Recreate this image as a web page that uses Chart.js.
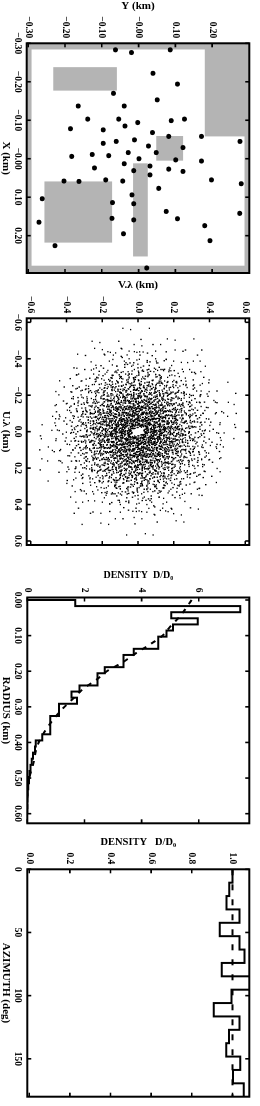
<!DOCTYPE html>
<html>
<head>
<meta charset="utf-8">
<script src="https://cdn.jsdelivr.net/npm/chart.js@4.4.1/dist/chart.umd.min.js"></script>
<style>
  html, body { margin: 0; padding: 0; background: #fff; overflow: hidden; }
  body { width: 260px; height: 1106px; position: relative; }
  /* the figure is laid out landscape and turned a quarter clockwise */
  #sheet { position: absolute; left: 0; top: 0; width: 1106px; height: 260px;
           transform-origin: 0 0; transform: translate(260px, 0) rotate(90deg); }
  #sheet canvas { position: absolute; top: 0; }
</style>
</head>
<body>
<div id="sheet">
  <canvas id="c-array"></canvas>
  <canvas id="c-uv"></canvas>
  <canvas id="c-radial"></canvas>
  <canvas id="c-azimuth"></canvas>
</div>
<script>
/* global Chart */

// ---- panel 1: antenna positions (km)
const antX = [-0.283, -0.276, -0.283, -0.222, -0.194, -0.170, -0.153, -0.137, -0.137, -0.103,
  -0.103, -0.094, -0.099, -0.103, -0.078, -0.075, -0.085, -0.068, -0.058, -0.058,
  -0.045, -0.040, -0.045, -0.049, -0.033, -0.029, -0.006, -0.011, -0.008, -0.016,
  0.000, -0.016, 0.003, 0.006, 0.024, 0.013, 0.031, 0.019, 0.027, 0.033,
  0.058, 0.059, 0.055, 0.058, 0.042, 0.055, 0.065, 0.077, 0.094, 0.104,
  0.114, 0.117, 0.137, 0.142, 0.165, 0.155, 0.159, 0.156, 0.174, 0.195,
  0.213, 0.226, 0.284];
const antY = [-0.063, -0.019, 0.086, 0.039, 0.106, -0.068, 0.051, -0.164, -0.039, -0.138,
  -0.054, -0.002, 0.089, 0.125, -0.185, -0.096, -0.037, 0.038, 0.082, 0.171,
  0.276, -0.096, -0.061, -0.011, 0.027, 0.121, -0.182, -0.126, -0.081, -0.028,
  0.001, 0.048, 0.101, 0.171, -0.120, -0.039, -0.013, 0.031, 0.082, 0.121,
  -0.203, -0.162, -0.089, -0.043, 0.031, 0.198, 0.279, 0.055, -0.018, -0.262,
  -0.071, -0.013, 0.075, 0.275, -0.271, -0.072, -0.013, 0.106, 0.180, -0.041,
  0.194, -0.227, 0.022];
// usable field and blocked (grey) areas: [xMin, xMax, yMin, yMax] in km
const openField = [-0.284, 0.278, -0.291, 0.288];
const blockedAreas = [
  [-0.238, -0.177, -0.232, -0.059],
  [-0.31, -0.058, 0.180, 0.31],
  [-0.059, 0.005, 0.048, 0.121],
  [0.059, 0.218, -0.256, -0.072],
  [0.012, 0.254, -0.015, 0.025],
];
const kmTicks = [-0.3, -0.2, -0.1, 0, 0.1, 0.2];
const kmLabels = ["\u22120.30", "\u22120.20", "\u22120.10", "\u22120.00", "0.10", "0.20"];

// ---- panel 2: uv ticks
const uvTicks = [-0.6, -0.4, -0.2, 0, 0.2, 0.4, 0.6];
const uvLabels = ["\u22120.6", "\u22120.4", "\u22120.2", "0.0", "0.2", "0.4", "0.6"];

// ---- panel 3: radial density of uv samples
const radiusEdges = [0, 0.0171, 0.0343, 0.0514, 0.0686, 0.0857, 0.1029, 0.12, 0.1371, 0.1543,
  0.1714, 0.1886, 0.2057, 0.2229, 0.24, 0.2571, 0.2743, 0.2914, 0.3086, 0.3257,
  0.3429, 0.36, 0.3771, 0.3943, 0.4114, 0.4286, 0.4457, 0.4629, 0.48, 0.4971,
  0.5143, 0.5314, 0.5486, 0.5657, 0.5829, 0.6];
const radialDensity = [1.68, 7.45, 5.04, 5.97, 5.10, 4.87, 4.58, 4.58, 3.73, 3.37,
  3.37, 2.71, 2.46, 2.46, 1.83, 1.55, 1.74, 1.11, 1.11, 0.80,
  0.80, 0.80, 0.52, 0.30, 0.27, 0.20, 0.16, 0.11, 0.08, 0.06,
  0.03, 0.02, 0.01, 0.0, 0.0];
const modelRadius = [0, 0.044, 0.073, 0.101, 0.126, 0.150, 0.178, 0.197, 0.222, 0.247,
  0.284, 0.311, 0.344, 0.377, 0.414, 0.454, 0.487, 0.515, 0.552, 0.60];
const modelDensity = [5.75, 5.36, 5.02, 4.72, 4.27, 3.79, 3.28, 2.84, 2.45, 2.00,
  1.51, 1.17, 0.83, 0.55, 0.33, 0.23, 0.11, 0.03, 0.0, 0.0];
const radiusTicks = [0, 0.1, 0.2, 0.3, 0.4, 0.5, 0.6];
const radiusLabels = ["0.00", "0.10", "0.20", "0.30", "0.40", "0.50", "0.60"];
const radialDensTicks = [0, 2, 4, 6];
const radialDensLabels = ["0", "2", "4", "6"];

// ---- panel 4: azimuthal density
const azimuthEdges = [0, 10.59, 21.18, 31.76, 42.35, 52.94, 63.53, 74.12, 84.71, 95.29,
  105.88, 116.47, 127.06, 137.65, 148.24, 158.82, 169.41, 180];
const azimuthDensity = [1.00, 0.984, 0.971, 1.035, 0.937, 1.035, 1.059, 0.948, 1.09, 0.995,
  0.908, 1.035, 0.983, 0.969, 1.038, 1.003, 1.056];
const uniformLevel = [1.0, 1.0];
const uniformAzimuth = [0, 180];
const azimuthTicks = [0, 50, 100, 150];
const azimuthLabels = ["0", "50", "100", "150"];
const azDensTicks = [0, 0.2, 0.4, 0.6, 0.8, 1.0];
const azDensLabels = ["0.0", "0.2", "0.4", "0.6", "0.8", "1.0"];

const FONT = "'Liberation Serif', 'DejaVu Serif', serif";
const GREY = "#b4b4b4";
const H = 260;

// every ordered pair of antennas gives one uv sample (their separation)
const uvPoints = [];
antX.forEach((xi, i) => {
  antX.forEach((xj, j) => {
    if (i !== j) uvPoints.push({ x: xi - xj, y: antY[i] - antY[j] });
  });
});

function steps(edges, values) {
  const pts = [{ x: edges[0], y: 0 }];
  edges.forEach((e, i) => pts.push({ x: e, y: values[Math.min(i, values.length - 1)] }));
  return pts;
}

function pairs(xs, ys) {
  return xs.map((x, i) => ({ x, y: ys[i] }));
}

// boxed frame with inward ticks on all four sides
const framePlugin = {
  id: "frame",
  afterDatasetsDraw(chart) {
    const { ctx, chartArea: a, scales } = chart;
    ctx.save();
    ctx.strokeStyle = "#000";
    ctx.lineWidth = 1.6;
    ctx.beginPath();
    scales.x.ticks.forEach((t) => {
      const p = scales.x.getPixelForValue(t.value);
      ctx.moveTo(p, a.bottom); ctx.lineTo(p, a.bottom - 4);
      ctx.moveTo(p, a.top); ctx.lineTo(p, a.top + 4);
    });
    scales.y.ticks.forEach((t) => {
      const p = scales.y.getPixelForValue(t.value);
      ctx.moveTo(a.left, p); ctx.lineTo(a.left + 4, p);
      ctx.moveTo(a.right, p); ctx.lineTo(a.right - 4, p);
    });
    ctx.stroke();
    ctx.lineWidth = 2;
    ctx.strokeRect(a.left, a.top, a.right - a.left, a.bottom - a.top);
    ctx.restore();
  },
};

// grey = ground not available for antennas
const fieldPlugin = {
  id: "field",
  beforeDatasetsDraw(chart) {
    const { ctx, chartArea: a, scales: { x, y } } = chart;
    const box = (b, color) => {
      const x0 = x.getPixelForValue(b[0]);
      const x1 = x.getPixelForValue(b[1]);
      const y0 = y.getPixelForValue(b[2]);
      const y1 = y.getPixelForValue(b[3]);
      ctx.fillStyle = color;
      ctx.fillRect(Math.min(x0, x1), Math.min(y0, y1), Math.abs(x1 - x0), Math.abs(y1 - y0));
    };
    ctx.save();
    ctx.beginPath();
    ctx.rect(a.left, a.top, a.right - a.left, a.bottom - a.top);
    ctx.clip();
    ctx.fillStyle = GREY;
    ctx.fillRect(a.left, a.top, a.right - a.left, a.bottom - a.top);
    box(openField, "#fff");
    blockedAreas.forEach((b) => box(b, GREY));
    ctx.restore();
  },
};

function axis(min, max, ticks, labels, title, fit, pad, titleSize) {
  return {
    type: "linear",
    min,
    max,
    grid: { display: false, drawTicks: false },
    border: { display: false },
    afterBuildTicks: (s) => { s.ticks = ticks.map((v) => ({ value: v })); },
    afterFit: fit,
    ticks: {
      autoSkip: false, maxRotation: 0, minRotation: 0, padding: pad, color: "#000",
      font: { family: FONT, size: 9.5, weight: "bold" },
      callback: (v, i) => labels[i],
    },
    title: {
      display: true, text: title, color: "#000", padding: 0,
      font: { family: FONT, size: titleSize || 11, weight: "bold", lineHeight: 1.1 },
    },
  };
}

function buildChart(id, geo, datasets, x, y, plugins) {
  const canvas = document.getElementById(id);
  const left = Math.floor(geo.plotLeft - geo.yAxisWidth);
  const width = Math.ceil(geo.plotRight + 3 - left);
  canvas.width = width;
  canvas.height = H;
  canvas.style.left = `${left}px`;
  canvas.style.width = `${width}px`;
  canvas.style.height = `${H}px`;
  const xs = axis(x.min, x.max, x.ticks, x.labels, x.title, (s) => { s.height = H - geo.plotBottom; }, 4, x.titleSize);
  xs.position = "bottom";
  const ys = axis(y.min, y.max, y.ticks, y.labels, y.title, (s) => { s.width = geo.plotLeft - left; }, 5, y.titleSize);
  ys.position = "left";
  return new Chart(canvas, {
    type: "scatter",
    data: { datasets },
    options: {
      responsive: false,
      maintainAspectRatio: false,
      animation: false,
      devicePixelRatio: 1,
      layout: { padding: { top: geo.plotTop, right: width - (geo.plotRight - left), left: 0, bottom: 0 } },
      plugins: { legend: { display: false }, tooltip: { enabled: false } },
      scales: { x: xs, y: ys },
    },
    plugins: [...(plugins || []), framePlugin],
  });
}

// panel 1: array layout
buildChart("c-array",
  { plotLeft: 43.3, plotRight: 273.3, plotTop: 3.3, plotBottom: 233.3, yAxisWidth: 43.3 },
  [{ data: pairs(antX, antY), pointRadius: 2.5, backgroundColor: "#000", borderWidth: 0 }],
  { min: -0.30, max: 0.297, ticks: kmTicks, labels: kmLabels, title: "X (km)" },
  { min: -0.3042, max: 0.301, ticks: kmTicks, labels: kmLabels, title: "Y (km)" },
  [fieldPlugin]);

// panel 2: uv coverage
buildChart("c-uv",
  { plotLeft: 318.3, plotRight: 547.3, plotTop: 3.3, plotBottom: 233.3, yAxisWidth: 38.5 },
  [{ data: uvPoints, pointStyle: "rect", pointRadius: 0.95, backgroundColor: "#000", borderWidth: 0 }],
  { min: -0.622, max: 0.622, ticks: uvTicks, labels: uvLabels, title: "U.\u03bb (km)" },
  { min: -0.623, max: 0.623, ticks: uvTicks, labels: uvLabels, title: "V.\u03bb (km)" });

// panel 3: radial profile
buildChart("c-radial",
  { plotLeft: 597.5, plotRight: 823.3, plotTop: 5, plotBottom: 232.7, yAxisWidth: 27.5 },
  [
    { data: steps(radiusEdges, radialDensity), showLine: true, stepped: true, borderColor: "#000", borderWidth: 2, pointRadius: 0 },
    { data: pairs(modelRadius, modelDensity), showLine: true, borderColor: "#000", borderWidth: 2, borderDash: [5, 6], cubicInterpolationMode: "monotone", pointRadius: 0 },
  ],
  { min: -0.007, max: 0.627, ticks: radiusTicks, labels: radiusLabels, title: "RADIUS (km)" },
  { min: 0, max: 7.77, ticks: radialDensTicks, labels: radialDensLabels, title: "DENSITY  D/D\u2080", titleSize: 10 });

// panel 4: azimuthal profile
buildChart("c-azimuth",
  { plotLeft: 869.3, plotRight: 1096.7, plotTop: 3.3, plotBottom: 232.7, yAxisWidth: 32 },
  [
    { data: steps(azimuthEdges, azimuthDensity).slice(1), showLine: true, stepped: true, borderColor: "#000", borderWidth: 2, pointRadius: 0 },
    { data: pairs(uniformAzimuth, uniformLevel), showLine: true, borderColor: "#000", borderWidth: 2, borderDash: [6, 9], pointRadius: 0 },
  ],
  { min: 0, max: 180, ticks: azimuthTicks, labels: azimuthLabels, title: "AZIMUTH (deg)" },
  { min: -0.0095, max: 1.083, ticks: azDensTicks, labels: azDensLabels, title: "DENSITY   D/D\u2080", titleSize: 10.5 });
</script>
</body>
</html>
